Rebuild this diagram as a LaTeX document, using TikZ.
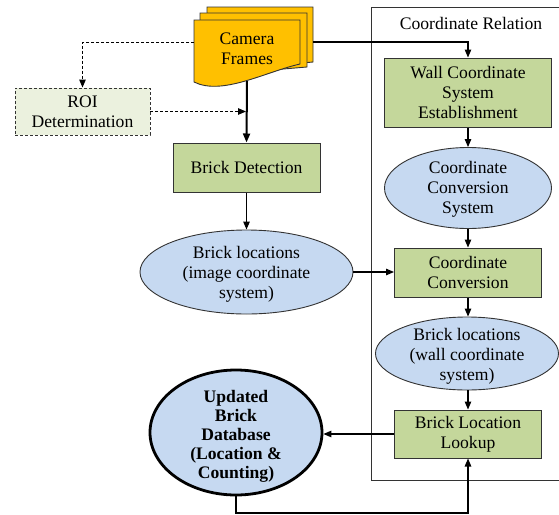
\documentclass[tikz,border=0pt]{standalone}
\usepackage{fontspec}
\setmainfont{Liberation Serif}
\usetikzlibrary{shapes.geometric,arrows.meta,calc}
\definecolor{camY}{HTML}{FFC000}
\definecolor{gF}{HTML}{C4D79B}
\definecolor{bF}{HTML}{C6D9F1}
\definecolor{roiF}{HTML}{EBF1DE}
\begin{document}
\begin{tikzpicture}[x=1pt,y=-1pt,
  every node/.style={font=\fontsize{17.6}{19.8}\selectfont, align=center, inner sep=0pt},
  gbox/.style={draw=black!80, line width=1pt, fill=gF, rectangle},
  bell/.style={draw=black!80, line width=0.9pt, fill=bF, ellipse},
  arr/.style={-{Triangle[length=8pt,width=6.5pt]}, line width=1.1pt, black},
  darr/.style={arr, line width=1pt, dash pattern=on 3pt off 2pt},
  docshape/.style={draw=black!80, line width=0.9pt, fill=camY}]
\useasboundingbox (0,0) rectangle (559,514);
\clip (0,0) rectangle (559,514);

% container
\draw[black!80, line width=0.9pt] (371,7) rectangle (580,480);
\node (title) at (471,23) {Coordinate Relation};

% camera frames (stack of documents)
\draw[docshape] (207,7) -- (313,7) -- (313,62) -- (207,72) -- cycle;
\draw[docshape] (200,13) -- (307,13) -- (307,67) -- (200,76) -- cycle;
\draw[docshape] (194,20) -- (300,20) -- (300,64) .. controls (265,72) and (222,96) .. (194,82) -- cycle;
\node (cam) at (247,49) {Camera\\Frames};
\coordinate (camL) at (194,42);
\coordinate (camR) at (313,42);
\coordinate (camB) at (247,81);

% left column
\node[draw=black!80, line width=0.9pt, dash pattern=on 3pt off 2pt, fill=roiF,
      minimum width=135pt, minimum height=47pt] (roi) at (82.5,111.5) {ROI\\Determination};
\node[gbox, minimum width=147pt, minimum height=49pt] (bd) at (246.5,167.5) {Brick Detection};
\node[bell, minimum width=213pt, minimum height=84pt] (e1) at (246.5,272) {};
\node (e1t) at (246.5,274) {Brick locations\\(image coordinate\\system)};
\node[bell, draw=black, line width=2.8pt, minimum width=172pt, minimum height=125pt] (db) at (236,432.5) {};
\node[font=\bfseries\fontsize{17.6}{19}\selectfont] (dbt) at (236,436) {Updated\\Brick\\Database\\(Location \&\\Counting)};

% right column
\node[gbox, minimum width=167pt, minimum height=69pt] (wall) at (468,92.5) {Wall Coordinate\\System\\Establishment};
\node[bell, minimum width=167pt, minimum height=81pt] (ccs) at (468,188) {};
\node (ccst) at (468,189) {Coordinate\\Conversion\\System};
\node[gbox, minimum width=147pt, minimum height=49pt] (conv) at (468,272.5) {Coordinate\\Conversion};
\node[bell, minimum width=183pt, minimum height=73pt] (wloc) at (467,353.5) {};
\node (wloct) at (467,356) {Brick locations\\(wall coordinate\\system)};
\node[gbox, minimum width=147pt, minimum height=48pt] (look) at (468,434) {Brick Location\\Lookup};

% connectors
\draw[arr] (camR) -| (wall.north);
\draw[darr] (camL) -| (roi.north);
\draw[line width=2pt, -{Triangle[length=9pt,width=7pt]}] (camB) -- (bd.north);
\coordinate (roiE) at (246,111.5);
\draw[darr] (roi.east) -- (roiE);
\draw[arr] (bd.south) -- (e1.north);
\draw[arr] (e1.east) -- (e1.east -| conv.west);
\draw[arr] (wall.south) -- (ccs.north);
\draw[arr] (ccs.south) -- (conv.north);
\draw[arr] (conv.south) -- (conv.south |- wloc.north);
\draw[arr] (look.north |- wloc.south) -- (look.north);
\draw[arr] (look.west) -- (look.west -| db.east);
\coordinate (bot) at (0,513);
\draw[arr] (db.south) -- (db.south |- bot) -- (bot -| look.south) -- (look.south);
\end{tikzpicture}
\end{document}
